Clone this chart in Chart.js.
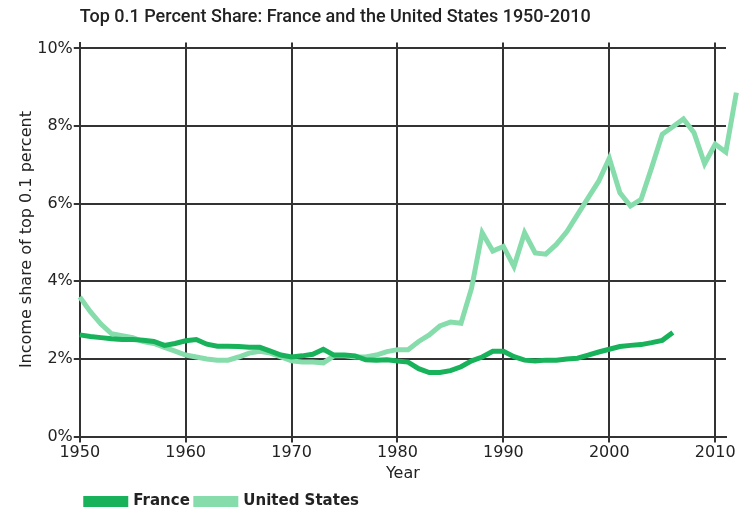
<!DOCTYPE html>
<html>
<head>
<meta charset="utf-8">
<script src="https://cdn.jsdelivr.net/npm/chart.js@4/dist/chart.umd.min.js"></script>
<style>
  body { margin: 0; background: #fff; }
  #wrap { width: 752px; height: 510px; }
</style>
</head>
<body>
<div id="wrap"><canvas id="lineChart" width="752" height="510"></canvas></div>
<script>
const years = [1950, 1951, 1952, 1953, 1954, 1955, 1956, 1957, 1958, 1959,
  1960, 1961, 1962, 1963, 1964, 1965, 1966, 1967, 1968, 1969,
  1970, 1971, 1972, 1973, 1974, 1975, 1976, 1977, 1978, 1979,
  1980, 1981, 1982, 1983, 1984, 1985, 1986, 1987, 1988, 1989,
  1990, 1991, 1992, 1993, 1994, 1995, 1996, 1997, 1998, 1999,
  2000, 2001, 2002, 2003, 2004, 2005, 2006, 2007, 2008, 2009,
  2010, 2011, 2012];

// France series stops in 2006
const france = [2.62, 2.58, 2.55, 2.52, 2.50, 2.50, 2.48, 2.45, 2.35, 2.40,
  2.47, 2.50, 2.38, 2.33, 2.33, 2.32, 2.30, 2.30, 2.20, 2.10,
  2.05, 2.08, 2.12, 2.25, 2.10, 2.10, 2.08, 1.98, 1.97, 1.98,
  1.95, 1.92, 1.75, 1.65, 1.65, 1.70, 1.80, 1.95, 2.05, 2.20,
  2.20, 2.06, 1.97, 1.95, 1.97, 1.97, 2.00, 2.02, 2.10, 2.18,
  2.25, 2.32, 2.35, 2.37, 2.42, 2.48, 2.68];

const unitedStates = [3.60, 3.22, 2.90, 2.65, 2.60, 2.55, 2.45, 2.40, 2.30, 2.20,
  2.10, 2.05, 2.00, 1.97, 1.97, 2.05, 2.15, 2.20, 2.15, 2.05,
  1.95, 1.92, 1.92, 1.90, 2.08, 2.08, 2.05, 2.05, 2.10, 2.19,
  2.24, 2.24, 2.45, 2.62, 2.85, 2.95, 2.92, 3.83, 5.25, 4.78,
  4.90, 4.38, 5.25, 4.73, 4.70, 4.95, 5.28, 5.72, 6.15, 6.58,
  7.17, 6.28, 5.94, 6.11, 6.93, 7.79, 7.98, 8.18, 7.83, 7.03,
  7.53, 7.33, 8.86];

const xTicks = [1950, 1960, 1970, 1980, 1990, 2000, 2010];
const yTicks = [0, 2, 4, 6, 8, 10];

const toPoints = (vals) => vals.map((v, i) => ({ x: years[i], y: v }));

const txt = '#222';
const gridCol = '#333';
const wideFont = '"DejaVu Sans", Roboto, sans-serif';
const titleFont = 'Roboto, "DejaVu Sans", sans-serif';

const ctx = document.getElementById('lineChart').getContext('2d');
new Chart(ctx, {
    type: 'line',
    data: {
        datasets: [{
            label: 'France',
            data: toPoints(france),
            borderColor: '#17b25a',
            backgroundColor: '#17b25a',
            borderWidth: 5,
            pointRadius: 0,
            tension: 0,
            fill: false,
            clip: false
        }, {
            label: 'United States',
            data: toPoints(unitedStates),
            borderColor: '#86dcab',
            backgroundColor: '#86dcab',
            borderWidth: 5,
            pointRadius: 0,
            tension: 0,
            fill: false,
            clip: false
        }]
    },
    options: {
        responsive: false,
        animation: false,
        layout: { padding: { left: 17, right: 26, top: 7, bottom: -9 } },
        plugins: {
            title: {
                display: true,
                text: 'Top 0.1 Percent Share: France and the United States 1950-2010',
                align: 'start',
                fullSize: false,
                color: txt,
                font: { family: titleFont, size: 18, weight: '500' },
                padding: { top: 0, bottom: 14 }
            },
            legend: {
                position: 'bottom',
                align: 'start',
                fullSize: false,
                labels: {
                    color: txt,
                    boxWidth: 40,
                    boxHeight: 6,
                    padding: 6,
                    font: { family: wideFont, size: 15, weight: 'bold' }
                }
            },
            tooltip: { enabled: false }
        },
        scales: {
            x: {
                type: 'linear',
                min: 1950,
                max: 2011.02,
                afterBuildTicks: (scale) => {
                    scale.ticks = xTicks.map(v => ({ value: v }));
                },
                grid: { color: gridCol, lineWidth: 2, tickLength: 6 },
                border: { color: gridCol, width: 2 },
                ticks: {
                    color: txt,
                    padding: 1,
                    maxRotation: 0,
                    font: { family: wideFont, size: 16, weight: '500' },
                    callback: (v) => String(v)
                },
                title: {
                    display: true,
                    text: 'Year',
                    color: txt,
                    padding: { top: 0, bottom: 5 },
                    font: { family: wideFont, size: 16, weight: '500' }
                }
            },
            y: {
                min: 0,
                max: 10.15,
                afterBuildTicks: (scale) => {
                    scale.ticks = yTicks.map(v => ({ value: v }));
                },
                grid: { color: gridCol, lineWidth: 2, tickLength: 6 },
                border: { color: gridCol, width: 2 },
                ticks: {
                    color: txt,
                    padding: 1,
                    font: { family: wideFont, size: 16, weight: '500' },
                    callback: (v) => v + '%'
                },
                title: {
                    display: true,
                    text: 'Income share of top 0.1 percent',
                    color: txt,
                    padding: { top: 0, bottom: 0 },
                    font: { family: wideFont, size: 16, weight: '500' }
                }
            }
        }
    }
});
</script>
</body>
</html>
